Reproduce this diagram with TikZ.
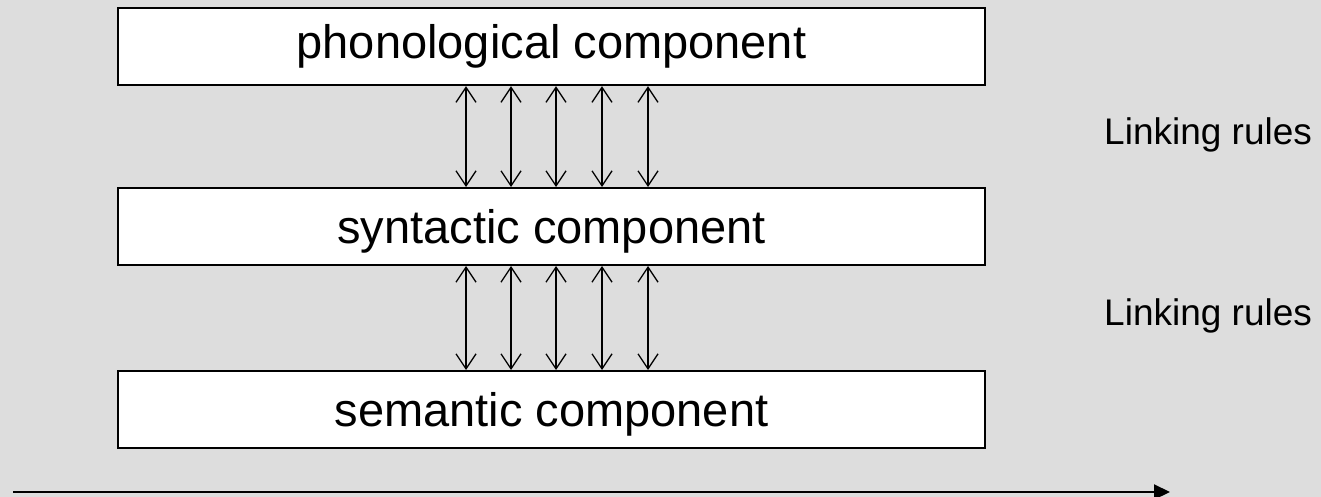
\documentclass[tikz,border=0pt]{standalone}
\usepackage{fontspec}
\setmainfont{Liberation Sans}
\usetikzlibrary{arrows.meta}
\definecolor{bggray}{RGB}{221,221,221}
\tikzset{
  component/.style={draw=black, fill=white, line width=2pt, minimum width=867pt,
    minimum height=77pt, inner sep=0pt, font=\fontsize{47}{47}\selectfont,
    text height=34pt, text depth=0pt},
  link/.style={line width=1.3pt, {Straight Barb[length=15pt,width=20pt]}-{Straight Barb[length=15pt,width=20pt]}},
  rulelabel/.style={anchor=base west, inner sep=0pt, font=\fontsize{37}{37}\selectfont},
  axis/.style={line width=2pt, -{Triangle[length=16pt,width=15pt]}}
}
\begin{document}
\begin{tikzpicture}[x=1pt, y=-1pt]
  % canvas
  \fill[bggray] (0,0) rectangle (1321,497);
  \useasboundingbox (0,0) rectangle (1321,497);

  % the three components
  \node[component, text depth=9.4pt] (phon) at (551.5,46.7) {phonological component};
  \node[component] (syn) at (551.5,226.5) {syntactic component};
  \node[component] (sem) at (551.5,409.5) {semantic component};

  % linking rules between neighbouring components
  \foreach \x in {466,511,556,602,648} {
    \draw[link] (phon.south -| \x,0) -- (syn.north -| \x,0);
    \draw[link] (syn.south -| \x,0) -- (sem.north -| \x,0);
  }

  \node[rulelabel] (lr1) at (1104,145) {Linking rules};
  \node[rulelabel] (lr2) at (1104,325) {Linking rules};

  % horizontal arrow along the bottom
  \coordinate (axstart) at (13,492);
  \coordinate (axend) at (1170,492);
  \draw[axis] (axstart) -- (axend);
\end{tikzpicture}
\end{document}
